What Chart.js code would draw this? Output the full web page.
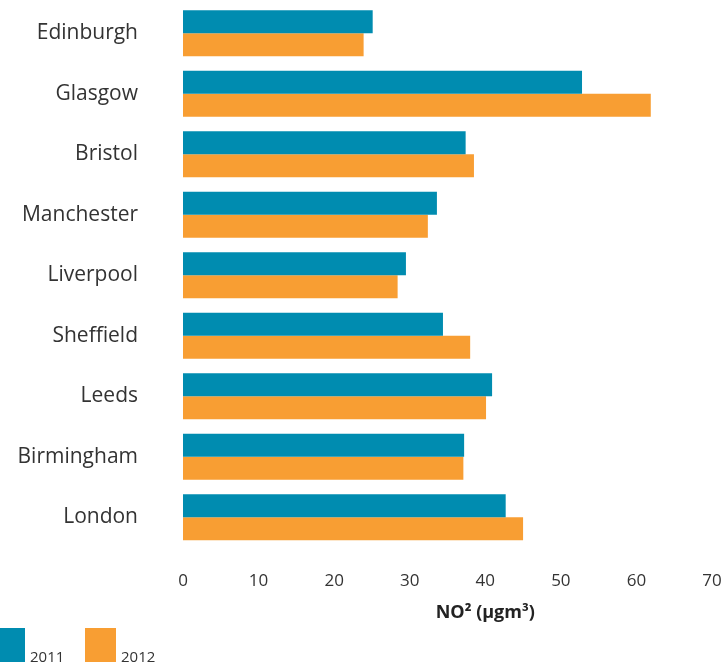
<!DOCTYPE html>
<html>
<head>
<meta charset="utf-8">
<script src="https://cdn.jsdelivr.net/npm/chart.js@4"></script>
<style>
  body { margin: 0; background: #fff; }
  #wrap { position: relative; width: 726px; height: 662px; }
  #no2chart { display: block; }
  #legend { position: absolute; left: 0; top: 628px; font-family: 'Open Sans', sans-serif; font-size: 15px; color: #333; }
  .item { position: absolute; top: 0; height: 34px; white-space: nowrap; }
  .item span.box { position: absolute; left: 0; top: 0; height: 34px; }
  .item span.lbl { position: absolute; bottom: -4px; }
</style>
</head>
<body>
<div id="wrap">
  <canvas id="no2chart" width="726" height="662"></canvas>
  <div id="legend"></div>
</div>
<script>
const ctx = document.getElementById('no2chart');

const cities = ['Edinburgh', 'Glasgow', 'Bristol', 'Manchester', 'Liverpool', 'Sheffield', 'Leeds', 'Birmingham', 'London'];
const values2011 = [25.1, 52.8, 37.4, 33.6, 29.5, 34.4, 40.9, 37.2, 42.7];
const values2012 = [23.9, 61.9, 38.5, 32.4, 28.4, 38.0, 40.1, 37.1, 45.0];
const xTicks = [0, 10, 20, 30, 40, 50, 60, 70];

const data = {
    labels: cities,
    datasets: [
        {
            label: '2011',
            data: values2011,
            backgroundColor: '#008cb0',
        },
        {
            label: '2012',
            data: values2012,
            backgroundColor: '#f89e33',
        },
    ]
}

// axis title sits under the 40 tick in the original
const axisTitle = {
    id: 'axisTitle',
    afterDraw(chart) {
        const c = chart.ctx;
        const x = chart.scales.x.getPixelForValue(40);
        c.save();
        c.font = 'bold 18px "Open Sans", sans-serif';
        c.fillStyle = '#222';
        c.textAlign = 'center';
        c.textBaseline = 'middle';
        c.fillText('NO² (µgm³)', x, 613);
        c.restore();
    }
};

const no2chart = new Chart(ctx, {
    type: 'bar',
    data: data,
    plugins: [axisTitle],
    options: {
        responsive: false,
        animation: false,
        indexAxis: 'y',
        categoryPercentage: 0.76,
        barPercentage: 1.0,
        layout: {
            padding: { top: 3, right: 14, left: 0, bottom: 48 }
        },
        plugins: {
            legend: { display: false },
            tooltip: { enabled: false }
        },
        scales: {
            x: {
                min: 0,
                max: 70,
                afterBuildTicks: function(scale) {
                    scale.ticks = xTicks.map(v => ({ value: v }));
                },
                afterFit: function(scale) {
                    scale.paddingLeft = 0;
                    scale.paddingRight = 0;
                },
                grid: { display: false, drawTicks: false },
                border: { display: false },
                ticks: {
                    padding: 23,
                    color: '#333',
                    font: { family: 'Open Sans', size: 17 }
                }
            },
            y: {
                afterFit: function(scale) {
                    scale.width = 183;
                    scale.paddingTop = 0;
                    scale.paddingBottom = 0;
                },
                grid: { display: false, drawTicks: false },
                border: { display: false },
                ticks: {
                    padding: 45,
                    color: '#333',
                    font: { family: 'Open Sans', size: 21 }
                }
            }
        }
    }
});

// legend: big swatch with the year at its lower right
const legend = document.getElementById('legend');
const lefts = [0, 85];
const boxW = [25, 31];
no2chart.data.datasets.forEach((ds, i) => {
    const item = document.createElement('div');
    item.className = 'item';
    item.style.left = lefts[i] + 'px';
    item.innerHTML = '<span class="box" style="width:' + boxW[i] + 'px;background:' + ds.backgroundColor + '"></span>' +
        '<span class="lbl" style="left:' + (boxW[i] + 5) + 'px">' + ds.label + '</span>';
    legend.appendChild(item);
});
</script>
</body>
</html>
